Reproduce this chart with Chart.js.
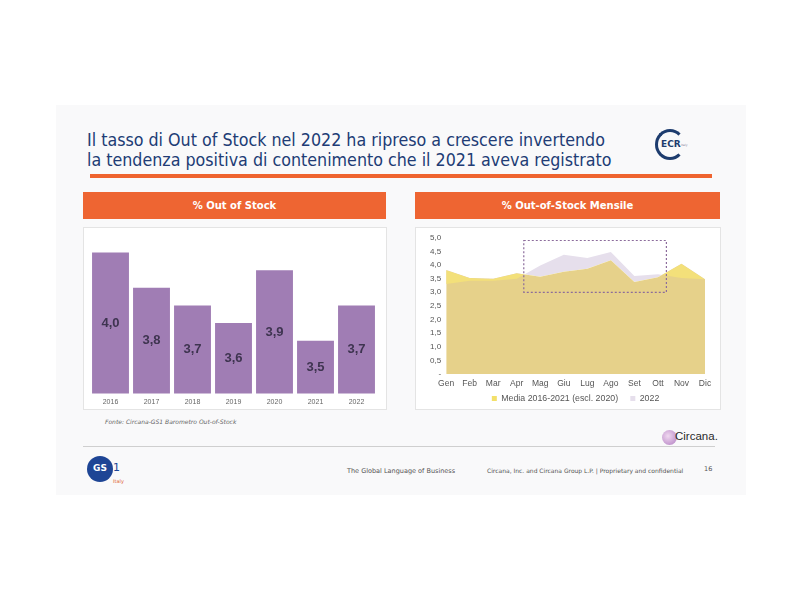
<!DOCTYPE html>
<html lang="it">
<head>
  <meta charset="UTF-8">
  <title>Out of Stock 2022</title>
  <script src="https://cdn.jsdelivr.net/npm/chart.js"></script>
  <style>
    body { margin: 0; width: 800px; height: 600px; background: #fff; font-family: "DejaVu Sans", sans-serif; position: relative; overflow: hidden; }
    .abs { position: absolute; }
    #slide { left: 56px; top: 105px; width: 690px; height: 390px; background: #f9f9fa; }
    #title { left: 87px; top: 130px; font-family: "DejaVu Sans Condensed", "DejaVu Sans", sans-serif; font-size: 17.7px; line-height: 20px; color: #213c75; white-space: nowrap; }
    #rule { left: 90px; top: 174px; width: 622px; height: 4px; background: #ef642f; }
    .head { top: 192px; height: 27px; background: #ee6532; color: #fff; font-weight: bold; font-size: 10px; line-height: 27px; text-align: center; }
    .box { top: 227px; height: 183px; background: #fff; border: 1px solid #e4e4e4; box-sizing: border-box; }
    .box canvas { position: absolute; left: 0; top: 0; }
    #fonte { left: 105px; top: 418px; font-size: 6px; font-style: italic; color: #666; }
    #line2 { left: 83px; top: 446px; width: 632px; height: 1px; background: #cfcfcf; }
    .foot { top: 467px; font-size: 6.5px; color: #555; white-space: nowrap; }
  </style>
</head>
<body>
  <div id="slide" class="abs"></div>
  <div id="title" class="abs">Il tasso di Out of Stock nel 2022 ha ripreso a crescere invertendo<br>la tendenza positiva di contenimento che il 2021 aveva registrato</div>

  <!-- logo ECR -->
  <div class="abs" style="left:655px;top:129px;width:30px;height:31px;border:3px solid #1d3c6e;border-right-color:transparent;border-radius:50%;box-sizing:border-box;"></div>
  <div class="abs" style="left:661px;top:139px;font-size:9px;font-weight:bold;color:#1d3c6e;">ECR</div>
  <div class="abs" style="left:681px;top:143px;font-size:3px;color:#889;">Italy</div>

  <div id="rule" class="abs"></div>

  <div class="abs head" style="left:83px;width:303px;">% Out of Stock</div>
  <div class="abs head" style="left:415px;width:305px;">% Out-of-Stock Mensile</div>

  <div class="abs box" style="left:83px;width:304px;"><canvas id="barChart" width="302" height="182"></canvas></div>
  <div class="abs box" style="left:415px;width:306px;"><canvas id="areaChart" width="304" height="191"></canvas></div>

  <div id="fonte" class="abs">Fonte: Circana-GS1 Barometro Out-of-Stock</div>

  <!-- logo Circana -->
  <div class="abs" style="left:662px;top:430px;width:15px;height:15px;border-radius:50%;background:radial-gradient(circle at 40% 40%, #f0d8f0, #b07cc0);"></div>
  <div class="abs" style="left:675px;top:430px;font-family:'Liberation Sans',Arial,sans-serif;font-size:11.5px;color:#2a2a2a;">Circana.</div>

  <div id="line2" class="abs"></div>

  <!-- logo GS1 -->
  <div class="abs" style="left:87px;top:456px;width:26px;height:26px;border-radius:50%;background:#1e4595;"></div>
  <div class="abs" style="left:93px;top:463px;font-size:9px;font-weight:bold;color:#fff;">GS</div>
  <div class="abs" style="left:113px;top:461px;font-size:11px;color:#1e4595;">1</div>
  <div class="abs" style="left:113px;top:478px;font-size:5px;color:#e06030;">Italy</div>

  <div class="abs foot" style="left:347px;">The Global Language of Business</div>
  <div class="abs foot" style="left:487px;font-size:6px;">Circana, Inc. and Circana Group L.P. | Proprietary and confidential</div>
  <div class="abs foot" style="left:704px;top:465px;">16</div>

  <script>
    // dati annuali
    const anni = ['2016', '2017', '2018', '2019', '2020', '2021', '2022'];
    const oosAnnuo = [4.0, 3.8, 3.7, 3.6, 3.9, 3.5, 3.7];

    // dati mensili
    const mesi = ['Gen', 'Feb', 'Mar', 'Apr', 'Mag', 'Giu', 'Lug', 'Ago', 'Set', 'Ott', 'Nov', 'Dic'];
    const media1621 = [3.82, 3.52, 3.5, 3.7, 3.57, 3.75, 3.86, 4.18, 3.38, 3.55, 4.05, 3.48];
    const oos2022 = [3.3, 3.42, 3.42, 3.5, 3.98, 4.38, 4.26, 4.48, 3.6, 3.66, 3.52, 3.48];

    const fmt = v => v.toFixed(1).replace('.', ',');

    // etichette al centro delle barre
    const barLabels = {
      id: 'barLabels',
      afterDraw(chart) {
        const c = chart.ctx;
        const xs = chart.scales.x, ys = chart.scales.y;
        const bottom = chart.chartArea.bottom;
        c.save();
        c.font = 'bold 13px Arial, "Liberation Sans", sans-serif';
        c.fillStyle = '#3e3450';
        c.textAlign = 'center';
        c.textBaseline = 'middle';
        oosAnnuo.forEach((v, i) => {
          const top = ys.getPixelForValue(v);
          c.fillText(fmt(v), xs.getPixelForValue(i), (top + bottom) / 2);
        });
        c.restore();
      }
    };

    new Chart(document.getElementById('barChart'), {
      type: 'bar',
      data: {
        labels: anni,
        datasets: [{
          label: '% Out of Stock',
          data: oosAnnuo,
          backgroundColor: '#a07db4',
          barPercentage: 0.9,
          categoryPercentage: 1
        }]
      },
      options: {
        responsive: false,
        animation: false,
        layout: { padding: { left: 6, right: 9, top: 7, bottom: 0 } },
        plugins: { legend: { display: false }, tooltip: { enabled: false } },
        scales: {
          x: {
            grid: { display: false, drawTicks: false },
            border: { display: false },
            ticks: { color: '#666', font: { size: 7, family: 'Liberation Sans' }, padding: 4 }
          },
          y: { display: false, min: 3.2, max: 4.1 }
        }
      },
      plugins: [barLabels]
    });

    // riquadro tratteggiato Apr-Ott
    const boxFocus = {
      id: 'boxFocus',
      afterDatasetsDraw(chart) {
        const x = chart.scales.x, y = chart.scales.y, c = chart.ctx;
        const x1 = x.getPixelForValue(3.3), x2 = x.getPixelForValue(9.36);
        const y1 = y.getPixelForValue(4.9), y2 = y.getPixelForValue(3.0);
        c.save();
        c.strokeStyle = '#8c6c9c';
        c.lineWidth = 1.2;
        c.setLineDash([2, 2]);
        c.strokeRect(x1, y1, x2 - x1, y2 - y1);
        c.restore();
      }
    };

    new Chart(document.getElementById('areaChart'), {
      type: 'line',
      data: {
        labels: mesi,
        datasets: [{
          label: 'Media 2016-2021 (escl. 2020)',
          data: media1621,
          backgroundColor: '#f3e06a',
          borderWidth: 0,
          pointRadius: 0,
          order: 1,
          fill: { target: 'origin', above: '#e6d18a' }
        }, {
          label: '2022',
          data: oos2022,
          backgroundColor: '#e6dfec',
          borderWidth: 0,
          pointRadius: 0,
          order: 0,
          fill: { target: 0, above: '#e6dfec', below: '#f3e07a' }
        }]
      },
      options: {
        responsive: false,
        animation: false,
        layout: { padding: { left: 9, right: 15, top: 8, bottom: 6 } },
        plugins: {
          tooltip: { enabled: false },
          legend: {
            position: 'bottom',
            fullSize: false,
            labels: {
              boxWidth: 5, boxHeight: 5, padding: 0,
              color: '#555', font: { size: 8.8, family: 'Liberation Sans' },
              sort: (a, b) => a.datasetIndex - b.datasetIndex,
              generateLabels(chart) {
                const items = Chart.defaults.plugins.legend.labels.generateLabels(chart);
                items.forEach(it => { if (it.datasetIndex === 0) it.text += '     '; });
                return items;
              }
            }
          }
        },
        scales: {
          x: {
            offset: false,
            grid: { display: false, drawTicks: false },
            border: { display: false },
            ticks: { color: '#555', font: { size: 8.5, family: 'Liberation Sans' }, padding: 5, maxRotation: 0, autoSkip: false }
          },
          y: {
            min: 0, max: 5,
            grid: { display: false, drawTicks: false },
            border: { display: false },
            ticks: {
              stepSize: 0.5, autoSkip: false,
              color: '#555', font: { size: 8, family: 'Liberation Sans' }, padding: 5,
              callback: v => v === 0 ? '-' : fmt(v)
            }
          }
        }
      },
      plugins: [boxFocus]
    });
  </script>
</body>
</html>
